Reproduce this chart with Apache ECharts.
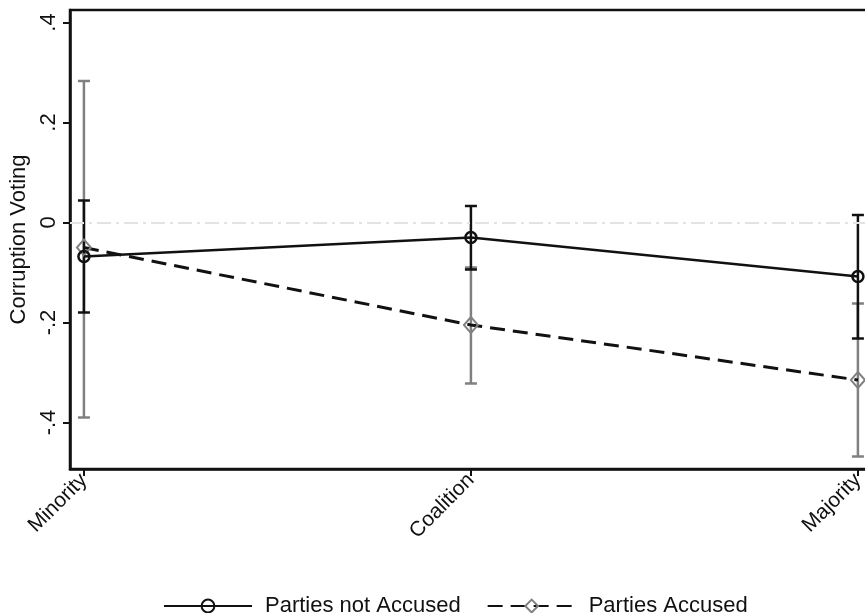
<!DOCTYPE html>
<html>
<head>
<meta charset="utf-8">
<script src="https://cdn.jsdelivr.net/npm/echarts@6/dist/echarts.min.js"></script>
<style>html,body{margin:0;padding:0;background:#fff}#c{width:865px;height:613px}</style>
</head>
<body>
<div id="c"></div>
<script>
const categories = ['Minority', 'Coalition', 'Majority'];
const yTicks = [-0.4, -0.2, 0, 0.2, 0.4];

const notAccusedEst = [-0.068, -0.030, -0.108];
const notAccusedLow = [-0.180, -0.094, -0.232];
const notAccusedHigh = [0.044, 0.033, 0.015];

const accusedEst = [-0.050, -0.205, -0.315];
const accusedLow = [-0.390, -0.322, -0.468];
const accusedHigh = [0.283, -0.090, -0.162];

const FONT = 'Liberation Sans';
const BLACK = '#111111';
const GRAY = '#808080';

function fmtTick(v) {
  if (Math.abs(v) < 1e-9) return '0';
  let s = String(Math.round(v * 10) / 10);
  return s.replace('0.', '.');
}

function errSeries(est, low, high, color, z) {
  return {
    type: 'custom',
    z: z,
    silent: true,
    data: categories.map((c, i) => [i, low[i], high[i]]),
    renderItem: function (params, api) {
      const x = api.value(0);
      const lo = api.coord([x, api.value(1)]);
      const hi = api.coord([x, api.value(2)]);
      const hw = 6;
      const style = { stroke: color, lineWidth: 2.5 };
      return {
        type: 'group',
        children: [
          { type: 'line', shape: { x1: lo[0], y1: lo[1], x2: hi[0], y2: hi[1] }, style: style },
          { type: 'line', shape: { x1: lo[0] - hw, y1: lo[1], x2: lo[0] + hw, y2: lo[1] }, style: style },
          { type: 'line', shape: { x1: hi[0] - hw, y1: hi[1], x2: hi[0] + hw, y2: hi[1] }, style: style }
        ]
      };
    }
  };
}

const chart = echarts.init(document.getElementById('c'), null, { renderer: 'canvas' });
chart.setOption({
  animation: false,
  backgroundColor: '#fff',
  textStyle: { fontFamily: FONT },
  grid: {
    left: 70, top: 10, width: 815, bottom: 144,
    containLabel: false,
    outerBoundsMode: 'none',
    show: true, borderColor: BLACK, borderWidth: 2.5, backgroundColor: 'transparent'
  },
  legend: {
    left: 158, top: 590,
    itemWidth: 88, itemHeight: 16, itemGap: 26,
    textStyle: { fontFamily: FONT, fontSize: 22, color: BLACK, padding: [0, 0, 0, 8] },
    data: ['Parties not Accused', 'Parties Accused']
  },
  xAxis: {
    type: 'value',
    min: -0.036, max: 2.07,
    splitLine: { show: false },
    axisLine: { show: true, onZero: false, lineStyle: { color: BLACK, width: 2.5 } },
    axisTick: { show: true, customValues: [0, 1, 2], length: 7, lineStyle: { color: BLACK, width: 2 } },
    axisLabel: {
      customValues: [0, 1, 2],
      formatter: v => categories[Math.round(v)] || '',
      rotate: 45, fontSize: 21, color: BLACK, fontFamily: FONT, margin: 8
    }
  },
  yAxis: {
    type: 'value',
    min: -0.493, max: 0.425,
    name: 'Corruption Voting',
    nameLocation: 'middle',
    nameGap: 40,
    nameTextStyle: { fontSize: 22, color: BLACK, fontFamily: FONT },
    splitLine: { show: false },
    axisLine: { show: true, onZero: false, lineStyle: { color: BLACK, width: 2.5 } },
    axisTick: { show: true, customValues: yTicks, length: 7, lineStyle: { color: BLACK, width: 2 } },
    axisLabel: {
      customValues: yTicks,
      formatter: fmtTick,
      rotate: 90, fontSize: 22, color: BLACK, fontFamily: FONT, margin: 10
    }
  },
  series: [
    errSeries(accusedEst, accusedLow, accusedHigh, GRAY, 2),
    errSeries(notAccusedEst, notAccusedLow, notAccusedHigh, BLACK, 3),
    {
      name: 'Parties Accused',
      type: 'line',
      z: 4,
      data: categories.map((c, i) => [i, accusedEst[i]]),
      symbol: 'diamond',
      symbolSize: [14, 16],
      lineStyle: { color: BLACK, width: 3, type: [15, 8] },
      itemStyle: { color: 'transparent', borderColor: GRAY, borderWidth: 2 },
      emphasis: { disabled: true },
      markLine: {
        silent: true,
        symbol: 'none',
        label: { show: false },
        lineStyle: { color: '#e3e3e3', width: 2, type: [14, 5, 3, 5] },
        data: [{ yAxis: 0 }]
      }
    },
    {
      name: 'Parties not Accused',
      type: 'line',
      z: 5,
      data: categories.map((c, i) => [i, notAccusedEst[i]]),
      symbol: 'circle',
      symbolSize: 11,
      lineStyle: { color: BLACK, width: 2.5, type: 'solid' },
      itemStyle: { color: 'transparent', borderColor: BLACK, borderWidth: 2.5 },
      emphasis: { disabled: true }
    }
  ]
});
</script>
</body>
</html>
